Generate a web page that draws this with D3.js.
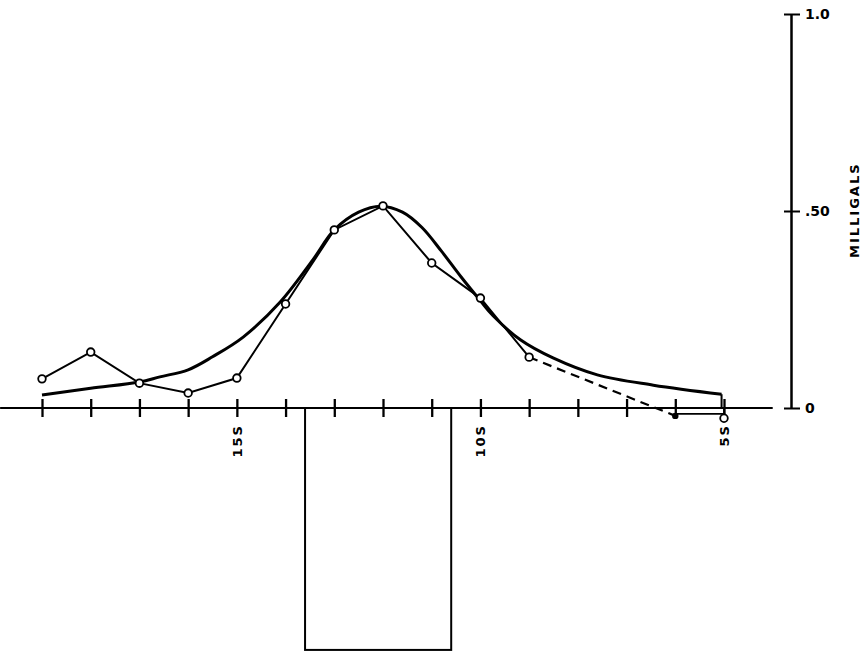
<!DOCTYPE html>
<html><head><meta charset="utf-8">
<script src="https://cdn.jsdelivr.net/npm/d3@7"></script>
<style>body{margin:0;background:#fff}svg{display:block}</style>
</head><body>
<script>
// ---- data ----
const stations = [19,18,17,16,15,14,13,12,11,10,9];
const observed = [0.074,0.142,0.063,0.038,0.076,0.264,0.452,0.513,0.368,0.279,0.129];
const dashedEnd = [6, -0.02];
const tailStations = [6, 5];
const tailValues = [-0.02, -0.026];
const curveX = [19,18,17,16.58,16,15.5,14.87,14.11,13.44,13,12.5,12.05,11.6,11.2,10.8,10.4,10.0,9.74,9.18,8.51,7.6,6.45,5.05];
const curveY = [0.033,0.05,0.066,0.079,0.097,0.13,0.18,0.269,0.376,0.452,0.497,0.512,0.497,0.458,0.398,0.333,0.272,0.234,0.173,0.127,0.084,0.058,0.035];
const tickStations = [19,18,17,16,15,14,13,12,11,10,9,8,7,6,5];
const labelStations = [15,10,5];
const labelText = ["15S","10S","5S"];
const yTicks = [0,0.5,1.0];
const yTickLabels = ["0",".50","1.0"];
const body = {left:13.6, right:10.6, depth:-0.614};
const axisExtent = [19.86, 4.0];

// ---- layout ----
const W=868,H=653;
const svg=d3.select("body").append("svg").attr("width",W).attr("height",H);
const x=d3.scaleLinear().domain([19,5]).range([42,724]);
const y=d3.scaleLinear().domain([0,1]).range([408,14]);
const yAxisX=791;
const font="'DejaVu Sans', sans-serif";

// body rectangle
svg.append("rect").attr("x",x(body.left)).attr("y",y(0))
  .attr("width",x(body.right)-x(body.left)).attr("height",y(body.depth)-y(0))
  .attr("fill","none").attr("stroke","#000").attr("stroke-width",2);

// x axis
const xAxis=d3.axisBottom(x).tickValues(tickStations).tickSize(0).tickFormat("");
const gx=svg.append("g").attr("transform",`translate(0,${y(0)})`).call(xAxis);
gx.select(".domain").remove();
gx.append("line").attr("x1",x(axisExtent[0])).attr("x2",x(axisExtent[1]))
  .attr("stroke","#000").attr("stroke-width",2);
gx.selectAll(".tick line").attr("y1",-9).attr("y2",9).attr("stroke","#000").attr("stroke-width",2.3);
svg.selectAll("text.xl").data(labelStations).enter().append("text").attr("class","xl")
  .attr("transform",d=>`translate(${x(d)+5},${y(0)+16}) rotate(-90)`)
  .attr("text-anchor","end").attr("font-family",font).attr("font-weight","bold")
  .attr("font-size",13).attr("letter-spacing",2).text((d,i)=>labelText[i]);

// y axis
const yAxis=d3.axisRight(y).tickValues(yTicks).tickSize(0).tickFormat("");
const gy=svg.append("g").attr("transform",`translate(${yAxisX},0)`).call(yAxis);
gy.select(".domain").attr("stroke","#000").attr("stroke-width",2.5);
gy.selectAll(".tick line").attr("x1",-7).attr("x2",9).attr("stroke","#000").attr("stroke-width",2);
gy.selectAll(".tick").append("text").attr("x",14).attr("dy","0.35em").attr("fill","#000")
  .attr("font-family",font).attr("font-weight","bold").attr("font-size",14)
  .attr("text-anchor","start").text((d,i)=>yTickLabels[i]);
svg.append("text").attr("transform",`translate(${yAxisX+68},258) rotate(-90)`)
  .attr("font-family",font).attr("font-weight","bold").attr("font-size",13)
  .attr("letter-spacing",2).text("MILLIGALS");

// smooth curve
const curvePts=curveX.map((d,i)=>[d,curveY[i]]);
const line=d3.line().x(d=>x(d[0])).y(d=>y(d[1])).curve(d3.curveCatmullRom.alpha(0.5));
svg.append("path").attr("d",line(curvePts)).attr("fill","none").attr("stroke","#000").attr("stroke-width",3);
svg.append("path").attr("d",d3.line().x(d=>x(d[0])).y(d=>y(d[1]))([curvePts[curvePts.length-1],[curveX[curveX.length-1],0]]))
  .attr("fill","none").attr("stroke","#000").attr("stroke-width",2);

// observed polyline
const obsPts=stations.map((d,i)=>[d,observed[i]]);
const lin=d3.line().x(d=>x(d[0])).y(d=>y(d[1]));
svg.append("path").attr("d",lin(obsPts)).attr("fill","none").attr("stroke","#000").attr("stroke-width",2);
svg.append("path").attr("d",lin([obsPts[obsPts.length-1],dashedEnd])).attr("fill","none")
  .attr("stroke","#000").attr("stroke-width",2.2).attr("stroke-dasharray","9,6");
const tailPts=tailStations.map((d,i)=>[d,tailValues[i]]);
svg.append("path").attr("d",lin([[tailStations[0],tailValues[0]+0.005],[tailStations[1],tailValues[0]+0.005]])).attr("fill","none").attr("stroke","#000").attr("stroke-width",1.8);
svg.append("path").attr("d",lin([[tailStations[1],0],[tailStations[1],tailValues[1]]])).attr("fill","none").attr("stroke","#000").attr("stroke-width",1.8);

svg.selectAll("circle.o").data(obsPts).enter().append("circle").attr("class","o")
  .attr("cx",d=>x(d[0])).attr("cy",d=>y(d[1])).attr("r",3.8)
  .attr("fill","#fff").attr("stroke","#000").attr("stroke-width",1.8);
svg.append("circle").attr("cx",x(tailPts[0][0])).attr("cy",y(tailPts[0][1])).attr("r",3.2).attr("fill","#000");
svg.append("circle").attr("cx",x(tailPts[1][0])).attr("cy",y(tailPts[1][1])).attr("r",3.8)
  .attr("fill","#fff").attr("stroke","#000").attr("stroke-width",1.8);
</script>
</body></html>
